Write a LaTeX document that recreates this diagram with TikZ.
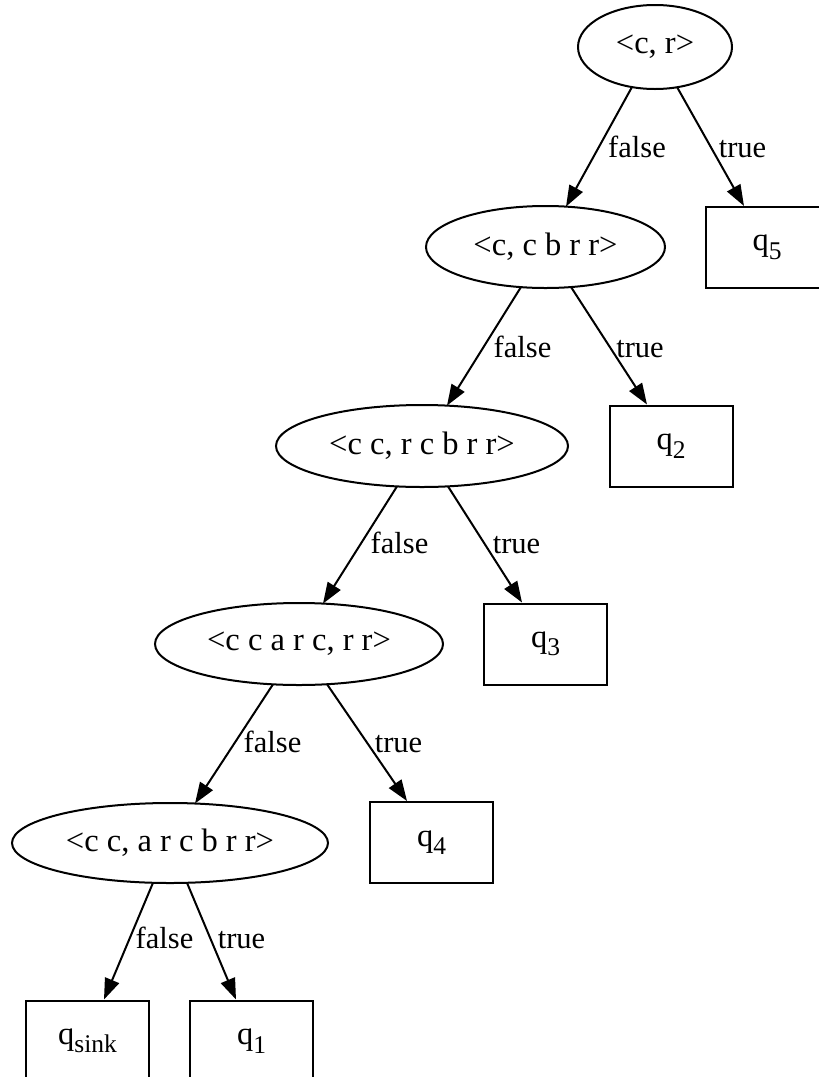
\documentclass[tikz,border=0pt]{standalone}
\usepackage{fontspec}
\setmainfont{Liberation Serif}
\usetikzlibrary{shapes.geometric,arrows.meta,calc}
% lowered, smaller subscript for state names
\newcommand\qsub[1]{\raisebox{-8.5pt}{\fontsize{25.5}{30}\selectfont #1}}
\begin{document}
\begin{tikzpicture}[x=1pt,y=-1pt,
  test/.style={ellipse,draw,line width=2pt,inner sep=0pt,
    font=\fontsize{32.5}{38}\selectfont},
  leaf/.style={rectangle,draw,line width=2pt,inner sep=0pt,
    minimum width=123pt,minimum height=81pt,
    font=\fontsize{32.5}{38}\selectfont},
  edge/.style={line width=2pt,-{Triangle[length=21pt,width=15pt]}},
  lbl/.style={anchor=base,inner sep=0pt,font=\fontsize{30.5}{36}\selectfont}]
\useasboundingbox (0,0) rectangle (819,1077);
\clip (0,0) rectangle (819,1077);

% decision nodes
\node[test,minimum width=154pt,minimum height=84pt] (e1) at (655,47) {\textless c, r\textgreater};
\node[test,minimum width=239pt,minimum height=82pt] (e2) at (545.5,247) {\textless c, c b r r\textgreater};
\node[test,minimum width=292pt,minimum height=82pt] (e3) at (422,446) {\textless c c, r c b r r\textgreater};
\node[test,minimum width=288pt,minimum height=82pt] (e4) at (299,644) {\textless c c a r c, r r\textgreater};
\node[test,minimum width=316pt,minimum height=80pt] (e5) at (170,843) {\textless c c, a r c b r r\textgreater};

% result states
\node[leaf] (q5) at (767,247.5) {q\qsub{5}};
\node[leaf] (q2) at (671,446) {q\qsub{2}};
\node[leaf] (q3) at (545.5,644) {q\qsub{3}};
\node[leaf] (q4) at (431.5,842.5) {q\qsub{4}};
\node[leaf] (qs) at (87.5,1041) {q\qsub{sink}};
\node[leaf] (q1) at (251.5,1041) {q\qsub{1}};

% transitions
\draw[edge] ($(e1.center)+(-23,40)$) -- ($(e2.center)+(20.5,-40.4)$);
\draw[edge] ($(e1.center)+(22,40)$) -- ($(q5.north)+(-23,0)$);
\draw[edge] ($(e2.center)+(-24.5,40)$) -- ($(e3.center)+(25,-40.4)$);
\draw[edge] ($(e2.center)+(25.5,40)$) -- ($(q2.north)+(-24,0)$);
\draw[edge] ($(e3.center)+(-25,40.4)$) -- ($(e4.center)+(24,-40.4)$);
\draw[edge] ($(e3.center)+(26,40.4)$) -- ($(q3.north)+(-23.5,0)$);
\draw[edge] ($(e4.center)+(-26,40.3)$) -- ($(e5.center)+(25,-39.5)$);
\draw[edge] ($(e4.center)+(28,40.2)$) -- ($(q4.north)+(-24.5,0)$);
\draw[edge] ($(e5.center)+(-17,39.8)$) -- ($(qs.north)+(16.5,0)$);
\draw[edge] ($(e5.center)+(17,39.8)$) -- ($(q1.north)+(-15.5,0)$);

% edge labels
\node[lbl] (f1) at (637,157) {false};
\node[lbl] (t1) at (742.5,157) {true};
\node[lbl] (f2) at (522.5,357) {false};
\node[lbl] (t2) at (640,357) {true};
\node[lbl] (f3) at (399.5,553) {false};
\node[lbl] (t3) at (516.5,553) {true};
\node[lbl] (f4) at (272.5,752) {false};
\node[lbl] (t4) at (398.5,752) {true};
\node[lbl] (f5) at (164.5,948) {false};
\node[lbl] (t5) at (241.5,948) {true};
\end{tikzpicture}
\end{document}
